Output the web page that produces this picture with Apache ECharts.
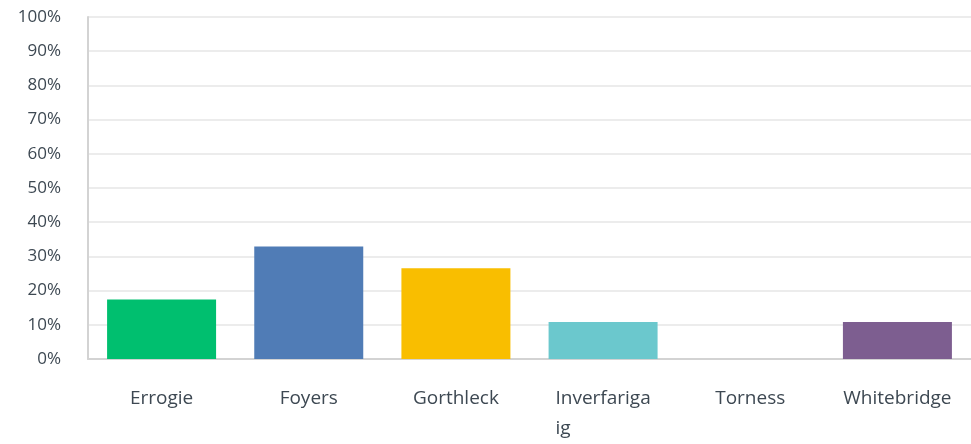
<!DOCTYPE html>
<html>
<head>
<meta charset="utf-8">
<script src="https://cdn.jsdelivr.net/npm/echarts@6/dist/echarts.min.js"></script>
<style>html,body{margin:0;padding:0;background:#fff;}#c{width:971px;height:444px;}</style>
</head>
<body>
<div id="c"></div>
<script>
const categories = ['Errogie', 'Foyers', 'Gorthleck', 'Inverfarigaig', 'Torness', 'Whitebridge'];
const xLabels = ['Errogie', 'Foyers', 'Gorthleck', 'Inverfariga\nig', 'Torness', 'Whitebridge'];
const values = [17.4, 32.9, 26.5, 10.8, 0, 10.8];
const barColors = ['#00bf6f', '#507cb6', '#f9be00', '#6bc8cd', '#ff8b4f', '#7d5e90'];
const yTicks = [0, 10, 20, 30, 40, 50, 60, 70, 80, 90, 100];

const chart = echarts.init(document.getElementById('c'), null, {renderer: 'canvas'});
const font = '"Open Sans", sans-serif';
const txt = '#3d4852';
chart.setOption({
  animation: false,
  grid: {left: 88, right: -3, top: 17, bottom: 84, containLabel: false},
  xAxis: {
    type: 'category',
    data: categories,
    axisLine: {show: true, lineStyle: {color: '#d3d3d3', width: 2}},
    axisTick: {show: false},
    axisLabel: {
      interval: 0, margin: 25, color: txt, fontSize: 19, fontFamily: font,
      lineHeight: 30, align: 'center',
      formatter: (v, i) => xLabels[i].includes('\n') ? '{l|' + xLabels[i] + '}' : xLabels[i],
      rich: {l: {align: 'left', fontSize: 19, fontFamily: font, color: txt, lineHeight: 30}}
    }
  },
  yAxis: {
    type: 'value', min: 0, max: 100, interval: 10,
    axisLine: {show: true, lineStyle: {color: '#d3d3d3', width: 2}},
    axisTick: {show: false},
    splitLine: {show: true, lineStyle: {color: '#ececec', width: 2}},
    axisLabel: {
      margin: 27, color: txt, fontSize: 17, fontFamily: font,
      formatter: v => yTicks.includes(v) ? v + '%' : ''
    }
  },
  series: [{
    type: 'bar',
    barWidth: 109,
    data: values.map((v, i) => ({value: v, itemStyle: {color: barColors[i]}}))
  }]
});
</script>
</body>
</html>
